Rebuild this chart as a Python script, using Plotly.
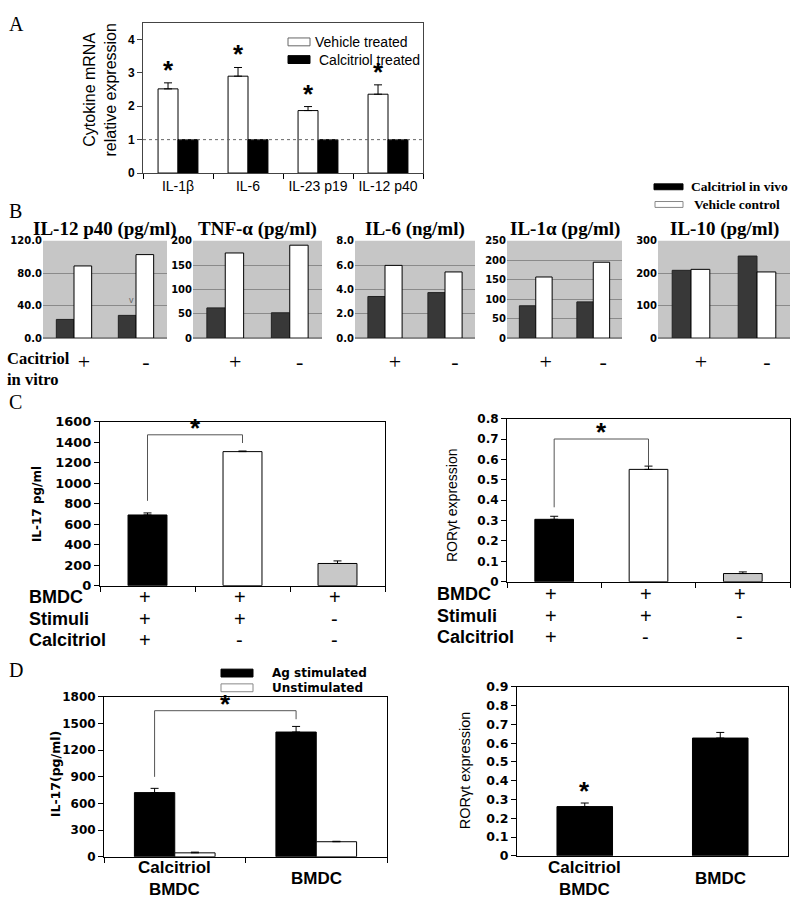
import plotly.graph_objects as go

W, H = 800, 907

# ---------------- Panel A data ----------------
a_cats = ["IL-1β", "IL-6", "IL-23 p19", "IL-12 p40"]
a_vehicle = [2.52, 2.90, 1.87, 2.36]
a_vehicle_err = [0.18, 0.26, 0.12, 0.28]
a_calcitriol = [1.0, 1.0, 1.0, 1.0]
a_ref_level = 1.0
a_series = ["Vehicle treated", "Calcitriol treated"]

# ---------------- Panel B data ----------------
b_titles = ["IL-12 p40 (pg/ml)", "TNF-α (pg/ml)", "IL-6 (ng/ml)", "IL-1α (pg/ml)", "IL-10 (pg/ml)"]
b_invitro = ["+", "-"]
b_calcitriol_invivo = [[23, 28], [62, 52], [3.42, 3.74], [83, 93], [209, 253]]
b_vehicle_control = [[89, 103], [175, 191], [5.98, 5.44], [157, 195], [212, 204]]
b_ymax = [120, 200, 8, 250, 300]
b_dtick = [40, 50, 2, 50, 100]
b_fmt = [".1f", "d", ".1f", "d", "d"]
b_series = ["Calcitriol in vivo", "Vehicle control"]

# ---------------- Panel C data ----------------
c_conditions = ["BMDC+Stimuli+Calcitriol", "BMDC+Stimuli", "BMDC"]
c_row_labels = ["BMDC", "Stimuli", "Calcitriol"]
c_bmdc = ["+", "+", "+"]
c_stimuli = ["+", "+", "-"]
c_calcitriol = ["+", "-", "-"]
c_il17 = [689, 1307, 216]
c_il17_err = [20, 6, 25]
c_ror = [0.306, 0.551, 0.040]
c_ror_err = [0.015, 0.016, 0.008]
c_colors = ["black", "white", "#c8c8c8"]
c_il17_bracket = [827, 1471, 1391]
c_ror_bracket = [0.365, 0.700, 0.567]

# ---------------- Panel D data ----------------
d_groups = ["Calcitriol<br>BMDC", "BMDC"]
d_ag = [721, 1402]
d_ag_err = [48, 63]
d_unstim = [44, 169]
d_unstim_err = [8, 5]
d_ror = [0.262, 0.627]
d_ror_err = [0.019, 0.030]
d_il17_bracket = [898, 1642, 1546]
d_series = ["Ag stimulated", "Unstimulated"]

BARGAP = 0.43
GW = 1 - BARGAP


def px(x):
    return x / W


def py(y):
    return 1 - y / H


def dx(x0, x1):
    return [x0 / W, x1 / W]


def dy(y0, y1):
    return [1 - y1 / H, 1 - y0 / H]


def err(arr):
    return dict(type="data", array=arr, arrayminus=[0] * len(arr), symmetric=False,
                color="black", thickness=1, width=4)


SANS = "Liberation Sans, Arial"
SERIF = "Liberation Serif, Times New Roman"
VERD = "DejaVu Sans, Verdana"

fig = go.Figure()
annotations = []
shapes = []
layout = dict(width=W, height=H, autosize=False, margin=dict(l=0, r=0, t=0, b=0, pad=0),
              paper_bgcolor="white", plot_bgcolor="white", showlegend=False,
              barmode="group", bargap=BARGAP, bargroupgap=0,
              font=dict(family=SANS, color="black"))


def label(x, y, text, font, xanchor="center", yanchor="middle", angle=0, align="center"):
    annotations.append(dict(xref="paper", yref="paper", x=px(x), y=py(y), text=text, showarrow=False,
                            xanchor=xanchor, yanchor=yanchor, textangle=angle, align=align, font=font))


def legend_box(x0, x1, yc, h, fill, text, tx, font, line="black"):
    shapes.append(dict(type="rect", xref="paper", yref="paper", x0=px(x0), x1=px(x1),
                       y0=py(yc + h / 2), y1=py(yc - h / 2), fillcolor=fill,
                       line=dict(color=line, width=1)))
    label(tx, yc, text, font, xanchor="left")


# ================= Panel A =================
fig.add_trace(go.Bar(x=a_cats, y=a_vehicle, name=a_series[0],
                     marker=dict(color="white", line=dict(color="black", width=1)),
                     error_y=err(a_vehicle_err), xaxis="x", yaxis="y"))
fig.add_trace(go.Bar(x=a_cats, y=a_calcitriol, name=a_series[1],
                     marker=dict(color="black", line=dict(color="black", width=1)),
                     xaxis="x", yaxis="y"))
layout["xaxis"] = dict(domain=dx(143, 423), anchor="y", type="category", range=[-0.5, 3.5],
                       showline=True, linecolor="#444", mirror=True, ticks="outside", ticklen=5,
                       tickson="boundaries", tickcolor="black",
                       tickfont=dict(family=SANS, size=14))
layout["yaxis"] = dict(domain=dy(15, 168), anchor="x", range=[0, 4.5], dtick=1,
                       showline=True, linecolor="#444", mirror=True, ticks="outside", ticklen=5,
                       showgrid=False, zeroline=False,
                       tickfont=dict(family=SANS, size=12, weight="bold"))
shapes.append(dict(type="line", xref="x domain", yref="y", x0=0, x1=1, y0=a_ref_level, y1=a_ref_level,
                   line=dict(color="#666", width=1, dash="dot")))
for i, c in enumerate(a_cats):
    annotations.append(dict(xref="x", yref="y", x=i - GW / 4, y=a_vehicle[i] + a_vehicle_err[i],
                            text="*", showarrow=False, yanchor="middle", yshift=13,
                            font=dict(family=SANS, size=26, weight="bold")))
label(100, 84, "Cytokine mRNA<br>relative expression", dict(family=SANS, size=16), angle=-90)
legend_box(288, 310, 34.5, 8, "white", a_series[0], 313, dict(family=SANS, size=14), line="#666")
legend_box(288, 310, 52.5, 8, "black", a_series[1], 317, dict(family=SANS, size=14))

# ================= Panel B =================
b_xdom = [(43, 167), (193, 322), (355, 475), (507, 622), (658, 790)]
for i in range(5):
    n = i + 2
    fig.add_trace(go.Bar(x=b_invitro, y=b_calcitriol_invivo[i], name=b_series[0],
                         marker=dict(color="#383838", line=dict(color="#222", width=1)),
                         xaxis=f"x{n}", yaxis=f"y{n}"))
    fig.add_trace(go.Bar(x=b_invitro, y=b_vehicle_control[i], name=b_series[1],
                         marker=dict(color="white", line=dict(color="black", width=1)),
                         xaxis=f"x{n}", yaxis=f"y{n}"))
    layout[f"xaxis{n}"] = dict(domain=dx(*b_xdom[i]), anchor=f"y{n}", type="category", range=[-0.5, 1.5],
                               showline=False, ticks="", ticklabelshift=10, ticklabelstandoff=8,
                               tickfont=dict(family=SERIF, size=22))
    layout[f"yaxis{n}"] = dict(domain=dy(237, 336), anchor=f"x{n}", range=[0, b_ymax[i]], dtick=b_dtick[i],
                               tickformat=b_fmt[i], showline=False, ticks="", showgrid=True,
                               gridcolor="#8a8a8a", gridwidth=1, zeroline=True, zerolinecolor="#8a8a8a",
                               tickfont=dict(family=VERD, size=10, weight="bold"))
    shapes.append(dict(type="rect", xref=f"x{n} domain", yref=f"y{n} domain", x0=0, x1=1, y0=0, y1=1,
                       fillcolor="#c6c6c6", line=dict(width=0), layer="below"))
    annotations.append(dict(xref=f"x{n} domain", yref="paper", x=0.5, y=py(225), text=b_titles[i],
                            showarrow=False, xanchor="center", yanchor="middle",
                            font=dict(family=SERIF, size=19, weight="bold")))
label(131, 297, "v", dict(family=SANS, size=9, color="#666"))
label(5, 367, "Cacitriol<br>in vitro", dict(family=SERIF, size=16.5, weight="bold"), xanchor="left", align="left")
BFONT = dict(family=SERIF, size=13.5, weight="bold")
legend_box(654, 683, 182, 6, "black", b_series[0], 689, BFONT)
legend_box(655, 683, 200, 6, "white", b_series[1], 692, BFONT, line="#888")

# ================= Panel C =================
c_rows = [c_bmdc, c_stimuli, c_calcitriol]


def boxed_x(n, dom, cats, ticks="outside"):
    return dict(domain=dom, anchor=f"y{n}", type="category", range=[-0.5, len(cats) - 0.5],
                showline=True, linecolor="black", mirror=True, ticks=ticks, ticklen=5,
                tickson="boundaries", tickcolor="black", showticklabels=False)


def boxed_y(n, dom, rng, dtick, size):
    return dict(domain=dom, anchor=f"x{n}", range=rng, dtick=dtick, showline=True, linecolor="black",
                mirror=True, ticks="outside", ticklen=5, tickcolor="black", showgrid=False, zeroline=False,
                tickfont=dict(family=VERD, size=size, weight="bold"))


fig.add_trace(go.Bar(x=c_conditions, y=c_il17, width=0.41, marker=dict(color=c_colors, line=dict(color="black", width=1)),
                     error_y=err(c_il17_err), xaxis="x7", yaxis="y7"))
fig.add_trace(go.Bar(x=c_conditions, y=c_ror, width=0.41, marker=dict(color=c_colors, line=dict(color="black", width=1)),
                     error_y=err(c_ror_err), xaxis="x8", yaxis="y8"))
layout["xaxis7"] = boxed_x(7, dx(100, 385), c_conditions)
layout["yaxis7"] = boxed_y(7, dy(421, 588), [0, 1600], 200, 13)
layout["xaxis8"] = boxed_x(8, dx(507, 790), c_conditions)
layout["yaxis8"] = boxed_y(8, dy(418, 584), [0, 0.8], 0.1, 12)

for (n, br) in [(7, c_il17_bracket), (8, c_ror_bracket)]:
    shapes.append(dict(type="path", xref=f"x{n}", yref=f"y{n}",
                       path=f"M0,{br[0]} L0,{br[1]} L1,{br[1]} L1,{br[2]}",
                       line=dict(color="#555", width=1)))
    annotations.append(dict(xref=f"x{n}", yref=f"y{n}", x=0.5, y=br[1], text="*", showarrow=False,
                            yanchor="middle", yshift=7, font=dict(family=SANS, size=26, weight="bold")))

for (n, lx, y0) in [(7, 27, 600), (8, 435, 597)]:
    for j, lab in enumerate(c_row_labels):
        yy = y0 + 21.5 * j
        label(lx, yy, lab, dict(family=SANS, size=18, weight="bold"), xanchor="left")
        for i, cond in enumerate(c_conditions):
            annotations.append(dict(xref=f"x{n}", yref="paper", x=cond, y=py(yy), text=c_rows[j][i],
                                    showarrow=False, xanchor="center", yanchor="middle", xshift=-3,
                                    font=dict(family=SANS, size=20)))
label(37, 505, "IL-17 pg/ml", dict(family=VERD, size=12, weight="bold"), angle=-90)
label(452, 506, "RORγt expression", dict(family=SANS, size=14), angle=-90)

# ================= Panel D =================
fig.add_trace(go.Bar(x=d_groups, y=d_ag, name=d_series[0],
                     marker=dict(color="black", line=dict(color="black", width=1)),
                     error_y=err(d_ag_err), xaxis="x9", yaxis="y9"))
fig.add_trace(go.Bar(x=d_groups, y=d_unstim, name=d_series[1],
                     marker=dict(color="white", line=dict(color="black", width=1)),
                     error_y=err(d_unstim_err), xaxis="x9", yaxis="y9"))
fig.add_trace(go.Bar(x=d_groups, y=d_ror, width=0.41, marker=dict(color="black", line=dict(color="black", width=1)),
                     error_y=err(d_ror_err), xaxis="x10", yaxis="y10"))
layout["xaxis9"] = boxed_x(9, dx(104, 387), d_groups)
layout["yaxis9"] = boxed_y(9, dy(701, 864), [0, 1800], 300, 12)
layout["xaxis10"] = boxed_x(10, dx(517, 788), d_groups, ticks="")
layout["yaxis10"] = boxed_y(10, dy(691, 863), [0, 0.9], 0.1, 12.5)
for n in (9, 10):
    for g in d_groups:
        annotations.append(dict(xref=f"x{n}", yref="paper", x=g, y=py(886), text=g, showarrow=False,
                                xanchor="center", yanchor="middle", font=dict(family=SANS, size=17, weight="bold")))
br = d_il17_bracket
shapes.append(dict(type="path", xref="x9", yref="y9",
                   path=f"M{-GW/4},{br[0]} L{-GW/4},{br[1]} L{1-GW/4},{br[1]} L{1-GW/4},{br[2]}",
                   line=dict(color="#555", width=1)))
annotations.append(dict(xref="x9", yref="y9", x=0.5 - GW / 4, y=br[1], text="*", showarrow=False,
                        yanchor="middle", yshift=7, font=dict(family=SANS, size=26, weight="bold")))
annotations.append(dict(xref="x10", yref="y10", x=d_groups[0], y=d_ror[0] + d_ror_err[0], text="*", showarrow=False,
                        yanchor="middle", yshift=12, font=dict(family=SANS, size=26, weight="bold")))
label(55, 780, "IL-17(pg/ml)", dict(family=VERD, size=12.5, weight="bold"), angle=-90)
label(465, 776, "RORγt expression", dict(family=SANS, size=14.5), angle=-90)
DFONT = dict(family=VERD, size=12, weight="bold")
legend_box(221, 253, 677, 8, "black", d_series[0], 270, DFONT)
legend_box(221, 253, 692, 8, "white", d_series[1], 270, DFONT, line="#888")

# ================= Panel letters =================
for lab, (x, y) in zip("ABCD", [(7, 16), (7, 207), (7, 401), (7, 674)]):
    label(x, y, lab, dict(family=SERIF, size=20), xanchor="left")

layout["annotations"] = annotations
layout["shapes"] = shapes
fig.update_layout(**layout)
fig.write_html("out.html", config={"displayModeBar": False, "responsive": False},
               post_script="document.body.style.margin='0px';document.documentElement.style.overflow='hidden';")
